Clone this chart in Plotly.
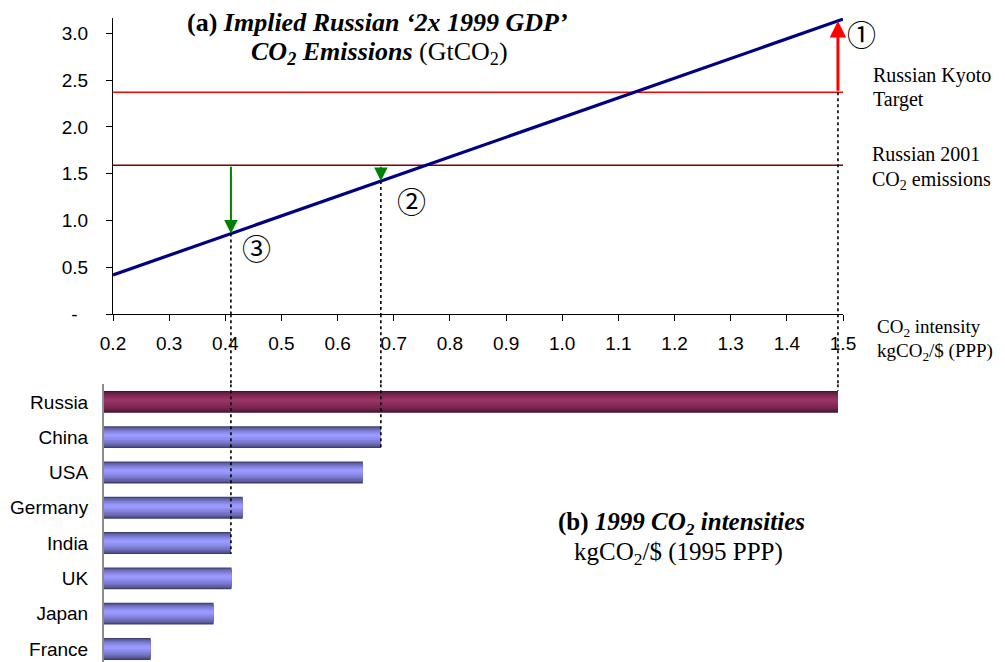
import plotly.graph_objects as go

# ---------------- data ----------------
# (a) implied emissions line: emissions = intensity x (2 x 1999 GDP)
line_intensity = [0.2, 1.5]
line_emissions = [0.42, 3.15]
gdp_2x = 2.1  # trillion $ (1995 PPP), slope of the line

kyoto_target = 2.37      # GtCO2
russia_2001 = 1.59       # GtCO2

x_ticks = [0.2, 0.3, 0.4, 0.5, 0.6, 0.7, 0.8, 0.9, 1.0, 1.1, 1.2, 1.3, 1.4, 1.5]
y_ticks = [0.0, 0.5, 1.0, 1.5, 2.0, 2.5, 3.0]
y_tick_text = ["-\u00a0\u00a0", "0.5", "1.0", "1.5", "2.0", "2.5", "3.0"]

# (b) 1999 CO2 intensities, kgCO2/$ (1995 PPP)
countries = ["Russia", "China", "USA", "Germany", "India", "UK", "Japan", "France"]
intensities = [1.491, 0.677, 0.645, 0.431, 0.410, 0.411, 0.379, 0.267]

# highlighted countries: (name, marker label, arrow start level)
highlights = [("Russia", "①", kyoto_target), ("China", "②", russia_2001), ("India", "③", russia_2001)]

# ---------------- layout helpers ----------------
# the page body has an 8px margin, so the figure is drawn 8px smaller and offset
OFF = 8
W, H = 1005 - OFF, 662 - OFF
def px(x):
    return (x - OFF) / W
def py(y):
    return 1 - (y - OFF) / H

serif = "Liberation Serif"
sans = "Liberation Sans"

fig = go.Figure()

# bars with a banded gradient (dark edges, light centre)
blue_dark, blue_light = (62, 62, 110), (153, 153, 255)
mar_dark, mar_light = (70, 18, 45), (153, 51, 102)
n_layers = 9
full_w = 0.62
for k in range(n_layers):
    t = k / (n_layers - 1)
    f = t ** 0.6
    w = full_w * (1 - 0.85 * t)
    def mix(a, b):
        return "rgb(%d,%d,%d)" % tuple(int(a[i] + (b[i] - a[i]) * f) for i in range(3))
    cols = [mix(mar_dark, mar_light) if c == "Russia" else mix(blue_dark, blue_light) for c in countries]
    fig.add_trace(go.Bar(
        x=intensities, y=countries, orientation="h",
        width=w, offset=-full_w / 2 + (full_w - w) * 0.42,
        marker=dict(color=cols, line=dict(width=0)),
        xaxis="x2", yaxis="y2", showlegend=False, hoverinfo="skip",
    ))

# implied emissions line
fig.add_trace(go.Scatter(
    x=line_intensity, y=line_emissions, mode="lines",
    line=dict(color="#000080", width=3.2),
    xaxis="x", yaxis="y", showlegend=False, hoverinfo="skip",
))

shapes = []
# horizontal reference lines
shapes.append(dict(type="line", xref="x", yref="y", x0=x_ticks[0], x1=x_ticks[-1],
                   y0=kyoto_target, y1=kyoto_target, line=dict(color="#FF0000", width=1.5), layer="below"))
shapes.append(dict(type="line", xref="x", yref="y", x0=x_ticks[0], x1=x_ticks[-1],
                   y0=russia_2001, y1=russia_2001, line=dict(color="#800000", width=1.5), layer="below"))

top_bottom = py(314.3)
bar_top = py(384.2)
half_bar = full_w / 2

annotations = []
for name, label, start in highlights:
    i = countries.index(name)
    v = intensities[i]
    y_on_line = gdp_2x * v
    dot = dict(color="black", width=1.6, dash="dot")
    top_start = start if name == "Russia" else y_on_line
    shapes.append(dict(type="line", xref="x", yref="y", x0=v, x1=v, y0=top_start, y1=0, line=dot, layer="above"))
    shapes.append(dict(type="line", xref="x", yref="paper", x0=v, x1=v, y0=top_bottom, y1=bar_top, line=dot, layer="above"))
    bar_edge = i - half_bar if name == "Russia" else i + half_bar
    shapes.append(dict(type="line", xref="x2", yref="y2", x0=v, x1=v, y0=-0.5, y1=bar_edge, line=dot, layer="above"))
    col = "#FF0000" if name == "Russia" else "#008000"
    annotations.append(dict(
        x=v, y=y_on_line, ax=v, ay=start, xref="x", yref="y", axref="x", ayref="y",
        text="", showarrow=True, arrowhead=2, arrowsize=1.1 if name == "Russia" else 1.35,
        arrowwidth=3 if name == "Russia" else 2, arrowcolor=col, standoff=0, startstandoff=0,
    ))

# circled markers
for label, (xx, yy) in zip(["①", "②", "③"], [(861, 33), (411, 200), (256, 247)]):
    annotations.append(dict(x=px(xx), y=py(yy), xref="paper", yref="paper", text=label,
                            showarrow=False, xanchor="center", yanchor="middle",
                            font=dict(family="Noto Sans CJK JP", size=29, color="black")))

def txt(text, x, y, size, xanchor="center"):
    annotations.append(dict(x=px(x), y=py(y), xref="paper", yref="paper", text=text,
                            showarrow=False, xanchor=xanchor, yanchor="middle",
                            font=dict(family=serif, size=size, color="black")))

# titles
txt("<b>(a) <i>Implied Russian ‘2x 1999 GDP’</i></b>", 377, 22, 26)
txt("<b><i>CO<sub>2</sub> Emissions</i></b> (GtCO<sub>2</sub>)", 379, 53, 26)
txt("<b>(b) <i>1999 CO<sub>2</sub> intensities</i></b>", 681, 523, 25)
txt("kgCO<sub>2</sub>/$ (1995 PPP)", 678, 553, 25)

# right-hand labels
txt("Russian Kyoto", 871, 75, 20, "left")
txt("Target", 871, 100, 20, "left")
txt("Russian 2001", 870, 154, 20, "left")
txt("CO<sub>2</sub> emissions", 870, 180, 20, "left")
txt("CO<sub>2</sub> intensity", 875, 328, 19, "left")
txt("kgCO<sub>2</sub>/$ (PPP)", 875, 352, 19, "left")

scale = (843 - 113) / (x_ticks[-1] - x_ticks[0])
x2_min = x_ticks[0] - (113 - 104) / scale
cat_h = 35.3
y2_bottom_val = -0.5 + (662 - 384.2) / cat_h

fig.update_layout(
    width=W, height=H,
    margin=dict(l=0, r=0, t=0, b=0, autoexpand=False),
    paper_bgcolor="white", plot_bgcolor="rgba(0,0,0,0)",
    showlegend=False, barmode="overlay",
    xaxis=dict(domain=[px(113), px(843)], range=[x_ticks[0], x_ticks[-1]], anchor="y",
               tickvals=x_ticks, ticktext=["%.1f" % t for t in x_ticks], automargin=False,
               showline=True, linecolor="black", linewidth=1, ticks="outside", ticklen=6,
               tickcolor="black", showgrid=False, zeroline=False,
               tickfont=dict(family=sans, size=19, color="black"), ticklabelstandoff=6),
    yaxis=dict(domain=[py(314.3), py(18)], range=[0, (314.3 - 18) / 93.7], anchor="x",
               tickvals=y_ticks, ticktext=y_tick_text, automargin=False,
               showline=True, linecolor="black", linewidth=1, ticks="outside", ticklen=6,
               tickcolor="black", showgrid=False, zeroline=False,
               tickfont=dict(family=sans, size=19, color="black"), ticklabelstandoff=14),
    xaxis2=dict(domain=[px(104), px(843)], range=[x2_min, x_ticks[-1]], anchor="y2",
                visible=False, showgrid=False, zeroline=False, automargin=False),
    yaxis2=dict(domain=[0, bar_top], anchor="x2", type="category",
                categoryorder="array", categoryarray=countries, automargin=False,
                range=[y2_bottom_val, -0.5],
                showline=True, linecolor="#8c8c8c", linewidth=2, ticks="",
                showgrid=False, zeroline=False,
                tickfont=dict(family=sans, size=19, color="black"), ticklabelstandoff=10),
    shapes=shapes, annotations=annotations,
)

fig.write_html("out.html")
